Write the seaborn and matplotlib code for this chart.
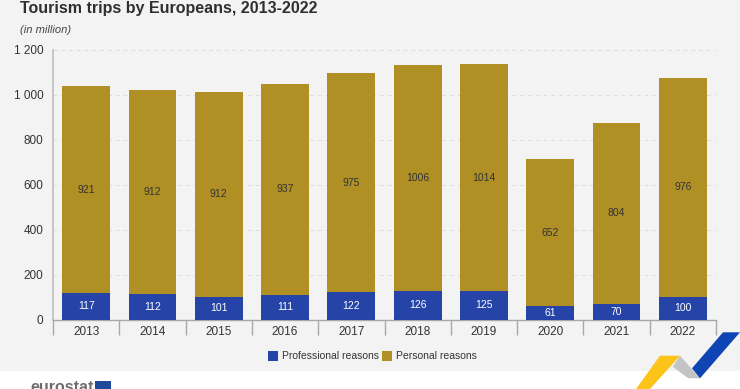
import matplotlib
matplotlib.use("Agg")
import matplotlib.pyplot as plt
from matplotlib.patches import Polygon, Rectangle
from matplotlib.ticker import FuncFormatter, FixedLocator
import seaborn as sns

years = ["2013", "2014", "2015", "2016", "2017", "2018", "2019", "2020", "2021", "2022"]
professional = [117, 112, 101, 111, 122, 126, 125, 61, 70, 100]
personal = [921, 912, 912, 937, 975, 1006, 1014, 652, 804, 976]
yticks = [0, 200, 400, 600, 800, 1000, 1200]

BLUE = "#2644a8"
GOLD = "#b09024"
BG = "#f3f3f3"
W, H = 740, 389

sns.set_theme(style="white")
plt.rcParams["font.family"] = ["Liberation Sans", "DejaVu Sans"]

fig = plt.figure(figsize=(W / 100, H / 100), dpi=100, facecolor="white")

def px(x, y):
    return x / W, 1 - y / H

# grey panel behind everything
fig.patches.append(Rectangle((0, px(0, 371)[1]), 1, 371 / H, transform=fig.transFigure,
                             facecolor=BG, edgecolor="none", zorder=-5))

ax = fig.add_axes([53 / W, 1 - 319.5 / H, 663 / W, 269.5 / H])
ax.patch.set_alpha(0)

sns.barplot(x=years, y=professional, color=BLUE, saturation=1, width=0.72, linewidth=0, ax=ax, zorder=3)
sns.barplot(x=years, y=personal, bottom=professional, color=GOLD, saturation=1, width=0.72, linewidth=0, ax=ax, zorder=3)

ax.bar_label(ax.containers[0], label_type="center", color="white", fontsize=7.5)
ax.bar_label(ax.containers[1], label_type="center", color="#333333", fontsize=7.5)

ax.set_xlim(-0.5, 9.5)
ax.set_ylim(0, 1200)
ax.set_yticks(yticks)
ax.yaxis.set_major_formatter(FuncFormatter(lambda v, _: f"{int(v):,}".replace(",", " ")))
ax.set_xlabel("")
ax.set_ylabel("")
ax.grid(axis="y", color="#dcdcdc", linestyle=(0, (4, 4)), linewidth=0.7, zorder=0)
ax.set_axisbelow(True)

for side in ["top", "right"]:
    ax.spines[side].set_visible(False)
ax.spines["left"].set_color("#bdbdbd")
ax.spines["left"].set_linewidth(1.2)
ax.spines["bottom"].set_color("#a8a8a8")
ax.spines["bottom"].set_linewidth(1)

ax.tick_params(axis="y", length=0, pad=7, labelsize=8.5, labelcolor="#333333")
ax.tick_params(axis="x", which="major", length=0, pad=5, labelsize=8.5, labelcolor="#333333")
ax.xaxis.set_minor_locator(FixedLocator([i - 0.5 for i in range(len(years) + 1)]))
ax.tick_params(axis="x", which="minor", bottom=True, length=11, width=1, color="#a8a8a8")

fig.text(*px(20, 9), "Tourism trips by Europeans, 2013-2022", fontsize=11.5, fontweight="bold",
         color="#2f2f2f", va="center", ha="left")
fig.text(*px(20, 30), "(in million)", fontsize=8, style="italic", color="#444444", va="center", ha="left")

# legend
fig.patches.append(Rectangle(px(268, 361), 10 / W, 10 / H, transform=fig.transFigure, facecolor=BLUE, edgecolor="none"))
fig.text(*px(282, 356), "Professional reasons", fontsize=7.5, color="#333333", va="center", ha="left")
fig.patches.append(Rectangle(px(382, 361), 10 / W, 10 / H, transform=fig.transFigure, facecolor=GOLD, edgecolor="none"))
fig.text(*px(396, 356), "Personal reasons", fontsize=7.5, color="#333333", va="center", ha="left")

# eurostat logo and ribbon
fig.text(*px(30, 392), "eurostat", fontsize=11.5, fontweight="bold",
         color="#6d6d6d", va="baseline", ha="left")
fig.patches.append(Rectangle(px(95, 391), 16 / W, 10 / H, transform=fig.transFigure, facecolor="#1f4a9c", edgecolor="none"))

for pts, col in [
    ([(660, 355.7), (680, 355.7), (650, 389), (636, 389)], "#fcc419"),
    ([(680, 355.7), (672.7, 366.7), (688.3, 378.3), (700, 378.3)], "#c4c4c4"),
    ([(723, 332.3), (740, 332.3), (700, 378.3), (692, 368.3)], "#0f44b4"),
]:
    fig.patches.append(Polygon([px(x, y) for x, y in pts], closed=True, transform=fig.transFigure,
                               facecolor=col, edgecolor="none"))

fig.savefig("out.png", dpi=100, facecolor="white")
